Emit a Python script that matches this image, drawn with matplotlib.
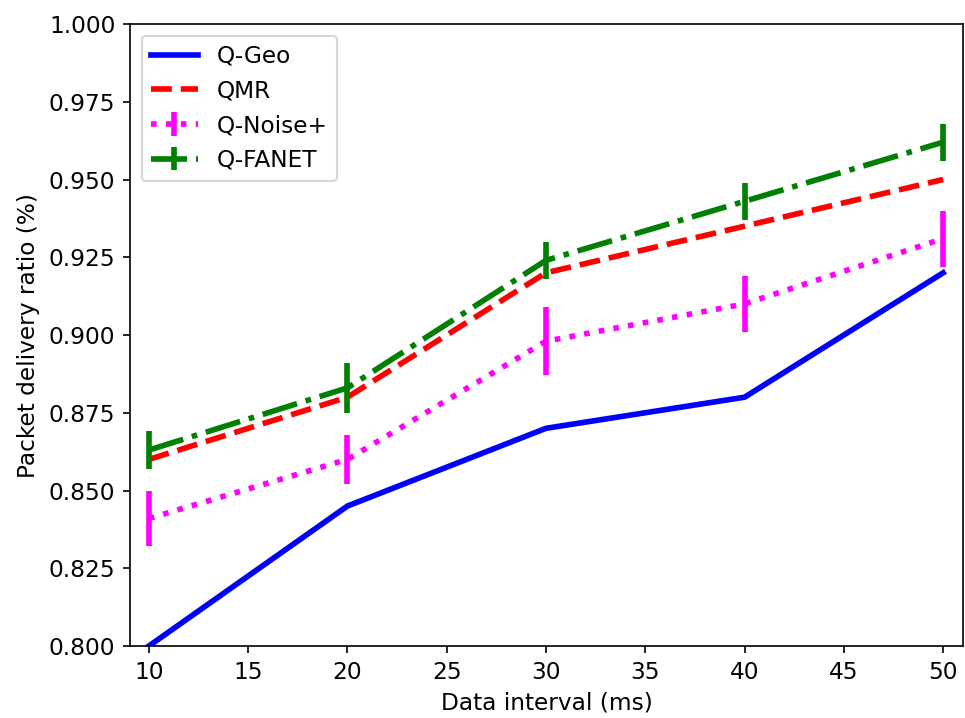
import numpy as np
import matplotlib
matplotlib.use('Agg')
import matplotlib.pyplot as plt

intervals = [10, 20, 30, 40, 50]
q_geo = [0.800, 0.845, 0.870, 0.880, 0.920]
qmr = [0.860, 0.880, 0.920, 0.935, 0.950]
q_noise = [0.841, 0.860, 0.898, 0.910, 0.931]
q_noise_err = [0.009, 0.008, 0.011, 0.009, 0.009]
q_fanet = [0.863, 0.883, 0.924, 0.943, 0.962]
q_fanet_err = [0.006, 0.008, 0.006, 0.006, 0.006]

plt.rcParams['font.size'] = 11.2

W, H = 965, 718
fig = plt.figure(figsize=(W / 150, H / 150), dpi=150)
left, right, top, bottom = 130, 963, 24, 646
ax = fig.add_axes([left / W, 1 - bottom / H, (right - left) / W, (bottom - top) / H])

ax.plot(intervals, q_geo, color='blue', linestyle='-', linewidth=2.7, label='Q-Geo')
ax.plot(intervals, qmr, color='red', linestyle='--', linewidth=2.7, label='QMR')
ax.errorbar(intervals, q_noise, yerr=q_noise_err, color='magenta', linestyle=':',
            linewidth=2.7, elinewidth=2.7, label='Q-Noise+')
ax.errorbar(intervals, q_fanet, yerr=q_fanet_err, color='green', linestyle='-.',
            linewidth=2.7, elinewidth=2.7, label='Q-FANET')

ax.set_xlim(9.05, 51.0)
ax.set_ylim(0.8, 1.0)
ax.set_xticks(np.arange(10, 51, 5))
ax.set_yticks(np.arange(0.8, 1.0001, 0.025))
ax.set_xlabel('Data interval (ms)')
ax.set_ylabel('Packet delivery ratio (%)')
ax.legend(loc='upper left')

fig.savefig('out.png', dpi=150)
